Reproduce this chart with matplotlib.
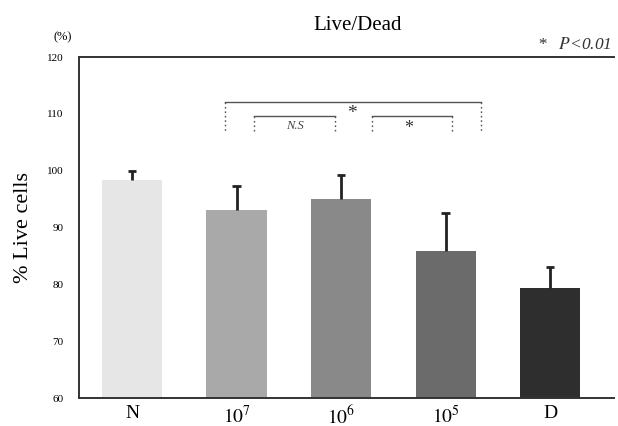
import matplotlib
matplotlib.use("Agg")
import matplotlib.pyplot as plt
import numpy as np

plt.rcParams['font.family'] = ['Liberation Serif', 'DejaVu Serif']
plt.rcParams['mathtext.fontset'] = 'stix'

categories = ['N', '$10^{7}$', '$10^{6}$', '$10^{5}$', 'D']
values = [98.4, 93.1, 95.1, 85.9, 79.3]
errors = [1.5, 4.3, 4.2, 6.6, 3.8]
colors = ['#e6e6e6', '#a9a9a9', '#898989', '#6b6b6b', '#2e2e2e']
yticks = [60, 70, 80, 90, 100, 110, 120]

fig = plt.figure(figsize=(6.18, 4.26), dpi=100)
ax = fig.add_axes([0.1278, 0.0657, 0.8657, 0.8003])

x = np.arange(len(categories))
vals = np.array(values)
errs = np.array(errors)
ax.bar(x, vals, width=0.575, color=colors, edgecolor='none', zorder=2)
# upper-only error bars
ax.vlines(x, vals, vals + errs, color='#222222', lw=2.0, zorder=3)
ax.hlines(vals + errs, x - 0.04, x + 0.04, color='#222222', lw=2.0, zorder=3)

ax.set_xlim(-0.507, 4.61)
ax.set_ylim(60, 120)
ax.set_yticks(yticks)
ax.set_yticklabels([str(t) for t in yticks], fontsize=8)
ax.set_xticks(x)
ax.set_xticklabels(categories, fontsize=14)
ax.tick_params(axis='both', length=0)
ax.tick_params(axis='y', pad=11)
ax.tick_params(axis='x', pad=5)

for s in ['left', 'bottom', 'top']:
    ax.spines[s].set_color('#333333')
    ax.spines[s].set_linewidth(1.4)
ax.spines['right'].set_visible(False)

ax.set_ylabel('% Live cells', fontsize=16, labelpad=10)

# significance brackets
bc = '#555555'
def bracket(x0, x1, ytop, ybot):
    ax.plot([x0, x1], [ytop, ytop], color=bc, lw=1.0, zorder=4)
    ax.plot([x0, x0], [ytop, ybot], color=bc, lw=1.0, ls=(0, (1.2, 2.0)), zorder=4)
    ax.plot([x1, x1], [ytop, ybot], color=bc, lw=1.0, ls=(0, (1.2, 2.0)), zorder=4)

bracket(0.89, 3.34, 112.1, 106.6)
bracket(1.17, 1.94, 109.7, 106.6)
bracket(2.30, 3.06, 109.7, 106.6)
ax.text(2.10, 110.1, '*', ha='center', va='center', fontsize=14, color='#333333')
ax.text(1.56, 107.9, 'N.S', ha='center', va='center', fontsize=9, style='italic', color='#444444')
ax.text(2.65, 107.5, '*', ha='center', va='center', fontsize=13, color='#333333')

fig.text(0.578, 0.94, 'Live/Dead', ha='center', va='center', fontsize=15)
fig.text(0.101, 0.913, '(%)', ha='center', va='center', fontsize=9)
fig.text(0.99, 0.895, '*   $P$<0.01', ha='right', va='center', fontsize=12.5, style='italic', color='#333333')

fig.savefig('out.png', dpi=100)
